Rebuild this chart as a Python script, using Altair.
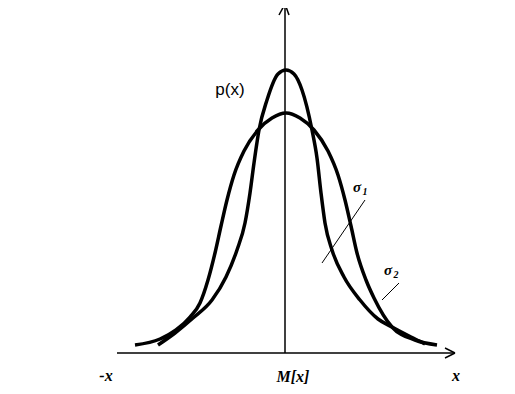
import altair as alt
import pandas as pd

# Curve samples (x: offset from M[x], h: height above the x axis)
narrow_x = [-128, -111, -93, -74, -60, -49, -41, -36, -32, -27, -19, -8, 0,
            8, 16, 26, 31, 35, 39, 46, 58, 74, 92, 106, 125, 139]
narrow_h = [8, 20, 35, 53, 76, 103, 130, 160, 190, 223, 253, 279, 283,
            279, 263, 223, 195, 160, 130, 103, 76, 53, 34, 26, 16, 9]

wide_x = [-151, -126, -110, -96, -86, -78, -71, -65, -59, -52, -42, -28, -14, 0,
          14, 28, 42, 52, 59, 65, 71, 80, 88, 106, 129, 151]
wide_h = [8, 14, 23, 36, 50, 73, 100, 127, 153, 178, 202, 223, 235, 240,
          235, 223, 202, 178, 153, 127, 100, 73, 55, 26, 13, 8]

# Axes (with arrow heads) and the two marker strokes
seg_x1 = [-169, 159, 159, -1, -7, 3, 36, 96]
seg_y1 = [0, 5, -5, 0, 338, 338, 90, 53]
seg_x2 = [169, 169, 169, -1, -1, -1, 79, 113]
seg_y2 = [0, 0, 0, 349, 349, 349, 153, 70]
seg_w = [1.5, 1.5, 1.5, 1.5, 1.5, 1.5, 1, 1]

# Labels
lab_text = ["-x", "M[x]", "x"]
lab_x = [-180, 7, 170]
lab_y = [-23, -24, -23]

sig_text = ["σ", "1", "σ", "2"]
sig_x = [71, 79, 102, 110]
sig_y = [166, 161, 83, 78]
sig_size = [15, 10, 15, 10]

curves = pd.concat([
    pd.DataFrame({"x": narrow_x, "h": narrow_h, "curve": "narrow"}),
    pd.DataFrame({"x": wide_x, "h": wide_h, "curve": "wide"}),
])
segs = pd.DataFrame({"x": seg_x1, "y": seg_y1, "x2": seg_x2, "y2": seg_y2, "w": seg_w})
labs = pd.DataFrame({"t": lab_text, "x": lab_x, "y": lab_y})
sigs = pd.DataFrame({"t": sig_text, "x": sig_x, "y": sig_y, "s": sig_size})
plab = pd.DataFrame({"t": ["p(x)"], "x": [-56], "y": [263]})

xs = alt.Scale(domain=[-278, 221], nice=False, zero=False)
ys = alt.Scale(domain=[-33, 345], nice=False, zero=False)

lines = alt.Chart(curves).mark_line(color="black", strokeWidth=3.5, interpolate="monotone").encode(
    x=alt.X("x:Q", scale=xs, axis=None),
    y=alt.Y("h:Q", scale=ys, axis=None),
    detail="curve:N",
)

rules = alt.Chart(segs).mark_rule(color="black").encode(
    x=alt.X("x:Q", scale=xs, axis=None),
    y=alt.Y("y:Q", scale=ys, axis=None),
    x2="x2:Q",
    y2="y2:Q",
    strokeWidth=alt.StrokeWidth("w:Q", scale=None, legend=None),
)

labels = alt.Chart(labs).mark_text(
    font="Liberation Serif", fontStyle="italic", fontWeight="bold", fontSize=16, color="black"
).encode(
    x=alt.X("x:Q", scale=xs, axis=None),
    y=alt.Y("y:Q", scale=ys, axis=None),
    text="t:N",
)

sigmas = alt.Chart(sigs).mark_text(
    font="Liberation Serif", fontStyle="italic", fontWeight="bold", color="black"
).encode(
    x=alt.X("x:Q", scale=xs, axis=None),
    y=alt.Y("y:Q", scale=ys, axis=None),
    text="t:N",
    size=alt.Size("s:Q", scale=None, legend=None),
)

ptext = alt.Chart(plab).mark_text(
    font="Liberation Sans", fontSize=17, color="black"
).encode(
    x=alt.X("x:Q", scale=xs, axis=None),
    y=alt.Y("y:Q", scale=ys, axis=None),
    text="t:N",
)

chart = alt.layer(rules, lines, labels, sigmas, ptext).properties(
    width=499, height=378, autosize=alt.AutoSizeParams(type="none"), padding=0,
    background="white",
).configure_view(stroke=None)

chart.save("out.html", embed_options={"renderer": "svg", "actions": False})
